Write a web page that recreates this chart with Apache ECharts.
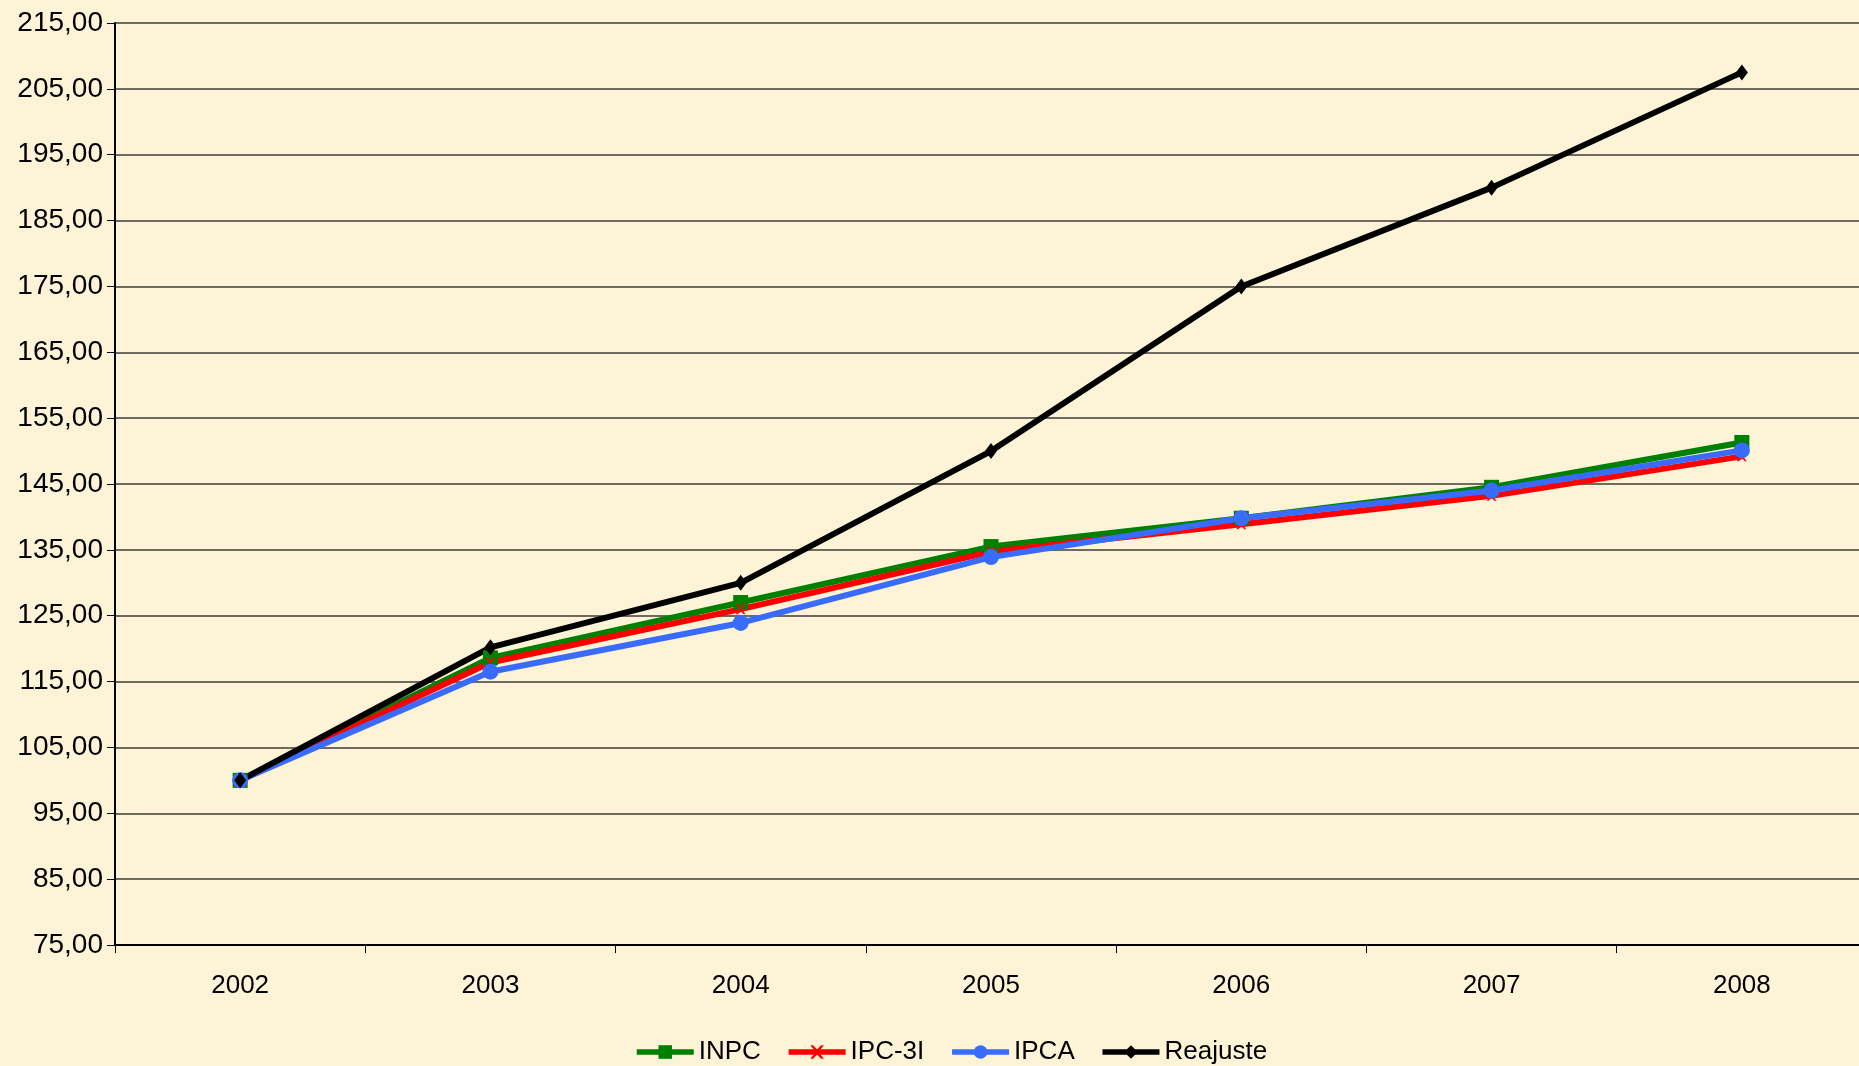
<!DOCTYPE html>
<html>
<head>
<meta charset="utf-8">
<script src="https://cdn.jsdelivr.net/npm/echarts@6/dist/echarts.min.js"></script>
<style>
html,body{margin:0;padding:0;background:#FDF4D8;}
#chart{width:1859px;height:1066px;}
</style>
</head>
<body>
<div id="chart"></div>
<script>
const categories = ['2002','2003','2004','2005','2006','2007','2008'];
const inpc     = [100, 118.6, 127.0, 135.5, 139.8, 144.5, 151.3];
const ipc3i    = [100, 117.9, 126.0, 134.7, 138.9, 143.2, 149.2];
const ipca     = [100, 116.5, 123.9, 133.9, 139.8, 144.0, 150.1];
const reajuste = [100, 120.2, 130.0, 150.0, 175.0, 190.0, 207.5];

const xPath = 'path://M0,0 L2,0 L5,3 L8,0 L10,0 L6,5 L10,10 L8,10 L5,7 L2,10 L0,10 L4,5 Z';
const font = '"Liberation Sans", Arial, sans-serif';

const chart = echarts.init(document.getElementById('chart'));
chart.setOption({
  backgroundColor: '#FDF4D8',
  animation: false,
  textStyle: {fontFamily: font},
  grid: {left: 115, top: 23, width: 1752, bottom: 121, containLabel: false, outerBoundsMode: 'none'},
  legend: {
    left: 629, top: 1034,
    itemWidth: 57, itemHeight: 17, itemGap: 25,
    textStyle: {fontSize: 26, color: '#000', fontFamily: font},
    lineStyle: {width: 5.5},
    data: ['INPC','IPC-3I','IPCA','Reajuste']
  },
  xAxis: {
    type: 'category',
    data: categories,
    boundaryGap: true,
    axisLine: {lineStyle: {color: '#000', width: 2}},
    axisTick: {show: true, length: 8, lineStyle: {color: '#000', width: 1}},
    axisLabel: {fontSize: 26, color: '#000', margin: 28, fontFamily: font},
    splitLine: {show: false}
  },
  yAxis: {
    type: 'value',
    min: 75, max: 215, interval: 10,
    axisLine: {show: true, lineStyle: {color: '#000', width: 2}},
    axisTick: {show: true, length: 8, lineStyle: {color: '#000', width: 1}},
    axisLabel: {fontSize: 28, color: '#000', margin: 12, fontFamily: font,
      formatter: v => v.toFixed(2).replace('.', ',')},
    splitLine: {show: true, lineStyle: {color: '#6e6a60', width: 2}}
  },
  series: [
    {name: 'INPC', type: 'line', data: inpc, symbol: 'rect', symbolSize: 15,
     lineStyle: {color: '#008000', width: 6}, itemStyle: {color: '#008000'}},
    {name: 'IPC-3I', type: 'line', data: ipc3i, symbol: xPath, symbolSize: 10,
     lineStyle: {color: '#FF0000', width: 6}, itemStyle: {color: '#FF0000'}},
    {name: 'IPCA', type: 'line', data: ipca, symbol: 'circle', symbolSize: 16,
     lineStyle: {color: '#3A6BFF', width: 6}, itemStyle: {color: '#3A6BFF'}},
    {name: 'Reajuste', type: 'line', data: reajuste, symbol: 'diamond', symbolSize: [12, 16],
     lineStyle: {color: '#000000', width: 6}, itemStyle: {color: '#000000'}}
  ]
});
</script>
</body>
</html>
